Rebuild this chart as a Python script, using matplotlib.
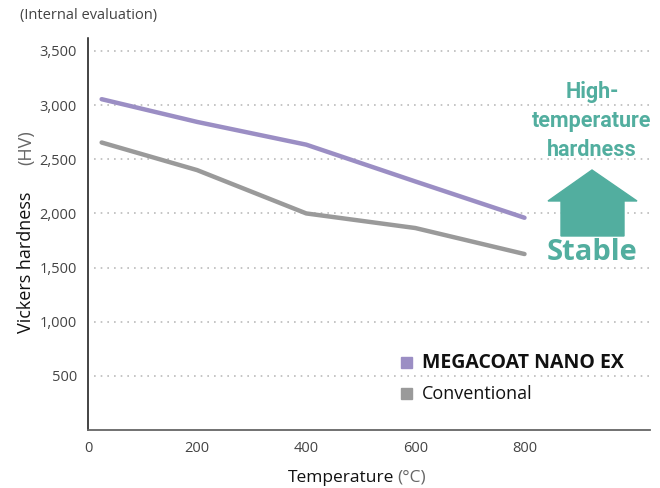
import matplotlib
matplotlib.use("Agg")
import matplotlib.pyplot as plt
from matplotlib.patches import Polygon

plt.rcParams['font.family'] = ['Open Sans', 'DejaVu Sans']

temps = [25, 200, 400, 600, 800]
megacoat = [3055, 2845, 2635, 2295, 1960]
conventional = [2655, 2400, 2000, 1865, 1625]
yticks = [500, 1000, 1500, 2000, 2500, 3000, 3500]
xticks = [0, 200, 400, 600, 800]

purple = '#9b8ec4'
gray = '#9a9a9a'
teal = '#52ae9f'
unitgray = '#666666'

fig = plt.figure(figsize=(6.6, 4.88), dpi=100)
ax = fig.add_axes([88/660, 58/488, 562/660, 392/488])

ax.plot(temps, conventional, color=gray, lw=3.2, solid_capstyle='round', solid_joinstyle='round', zorder=3)
ax.plot(temps, megacoat, color=purple, lw=3.2, solid_capstyle='round', solid_joinstyle='round', zorder=3)

ax.set_xlim(0, 1030)
ax.set_ylim(0, 3620)
ax.set_xticks(xticks)
ax.set_xticklabels([f"{v:,}" for v in xticks])
ax.set_yticks(yticks)
ax.set_yticklabels([f"{v:,}" for v in yticks])
ax.tick_params(length=0, labelsize=10.5, colors='#444444', pad=8)
for v in yticks:
    ax.axhline(v, xmin=0.01, xmax=1, color='#bbbbbb', lw=1.2, ls=(0, (1, 3)), zorder=1)
for s in ['top', 'right']:
    ax.spines[s].set_visible(False)
ax.spines['left'].set_color('#111111')
ax.spines['bottom'].set_color('#666666')
ax.spines['left'].set_linewidth(1.1)
ax.spines['bottom'].set_linewidth(1.3)

# axis labels (two-tone)
fig.text(394/660, 1 - 478/488, "Temperature", fontsize=12.5, color='#111111', ha='right', va='center')
fig.text(397/660, 1 - 478/488, "(°C)", fontsize=12.5, color=unitgray, ha='left', va='center')
fig.text(26/660, 1 - 333/488, "Vickers hardness", fontsize=13, color='#111111', rotation=90,
         ha='center', va='bottom')
fig.text(26/660, 1 - 165/488, "(HV)", fontsize=13, color=unitgray, rotation=90,
         ha='center', va='bottom')

fig.text(20/660, 1 - 15/488, "(Internal evaluation)", fontsize=10.5, color='#444444', va='center', ha='left')

# legend
fig.patches.append(plt.Rectangle((401/660, 1 - 368/488), 11/660, 11/488, transform=fig.transFigure, color=purple))
fig.patches.append(plt.Rectangle((401/660, 1 - 399/488), 11/660, 11/488, transform=fig.transFigure, color=gray))
fig.text(422/660, 1 - 363/488, "MEGACOAT NANO EX", fontsize=14, fontweight='bold', color='#111111', va='center')
fig.text(422/660, 1 - 394/488, "Conventional", fontsize=13, color='#111111', va='center')

# annotation
for line, yy in [("High-", 92), ("temperature", 121), ("hardness", 150)]:
    fig.text(592/660, 1 - yy/488, line, fontsize=15.5, fontweight='bold', color=teal,
             ha='center', va='center', family=['Roboto', 'DejaVu Sans'])
house = [(592, 170), (637, 201), (624, 201), (624, 236), (561, 236), (561, 201), (548, 201)]
fig.patches.append(Polygon([(x/660, 1 - y/488) for x, y in house], closed=True,
                           transform=fig.transFigure, color=teal))
fig.text(592/660, 1 - 253/488, "Stable", fontsize=21, fontweight='bold', color=teal,
         ha='center', va='center', family=['Open Sans', 'DejaVu Sans'])

fig.savefig("out.png", dpi=100)
